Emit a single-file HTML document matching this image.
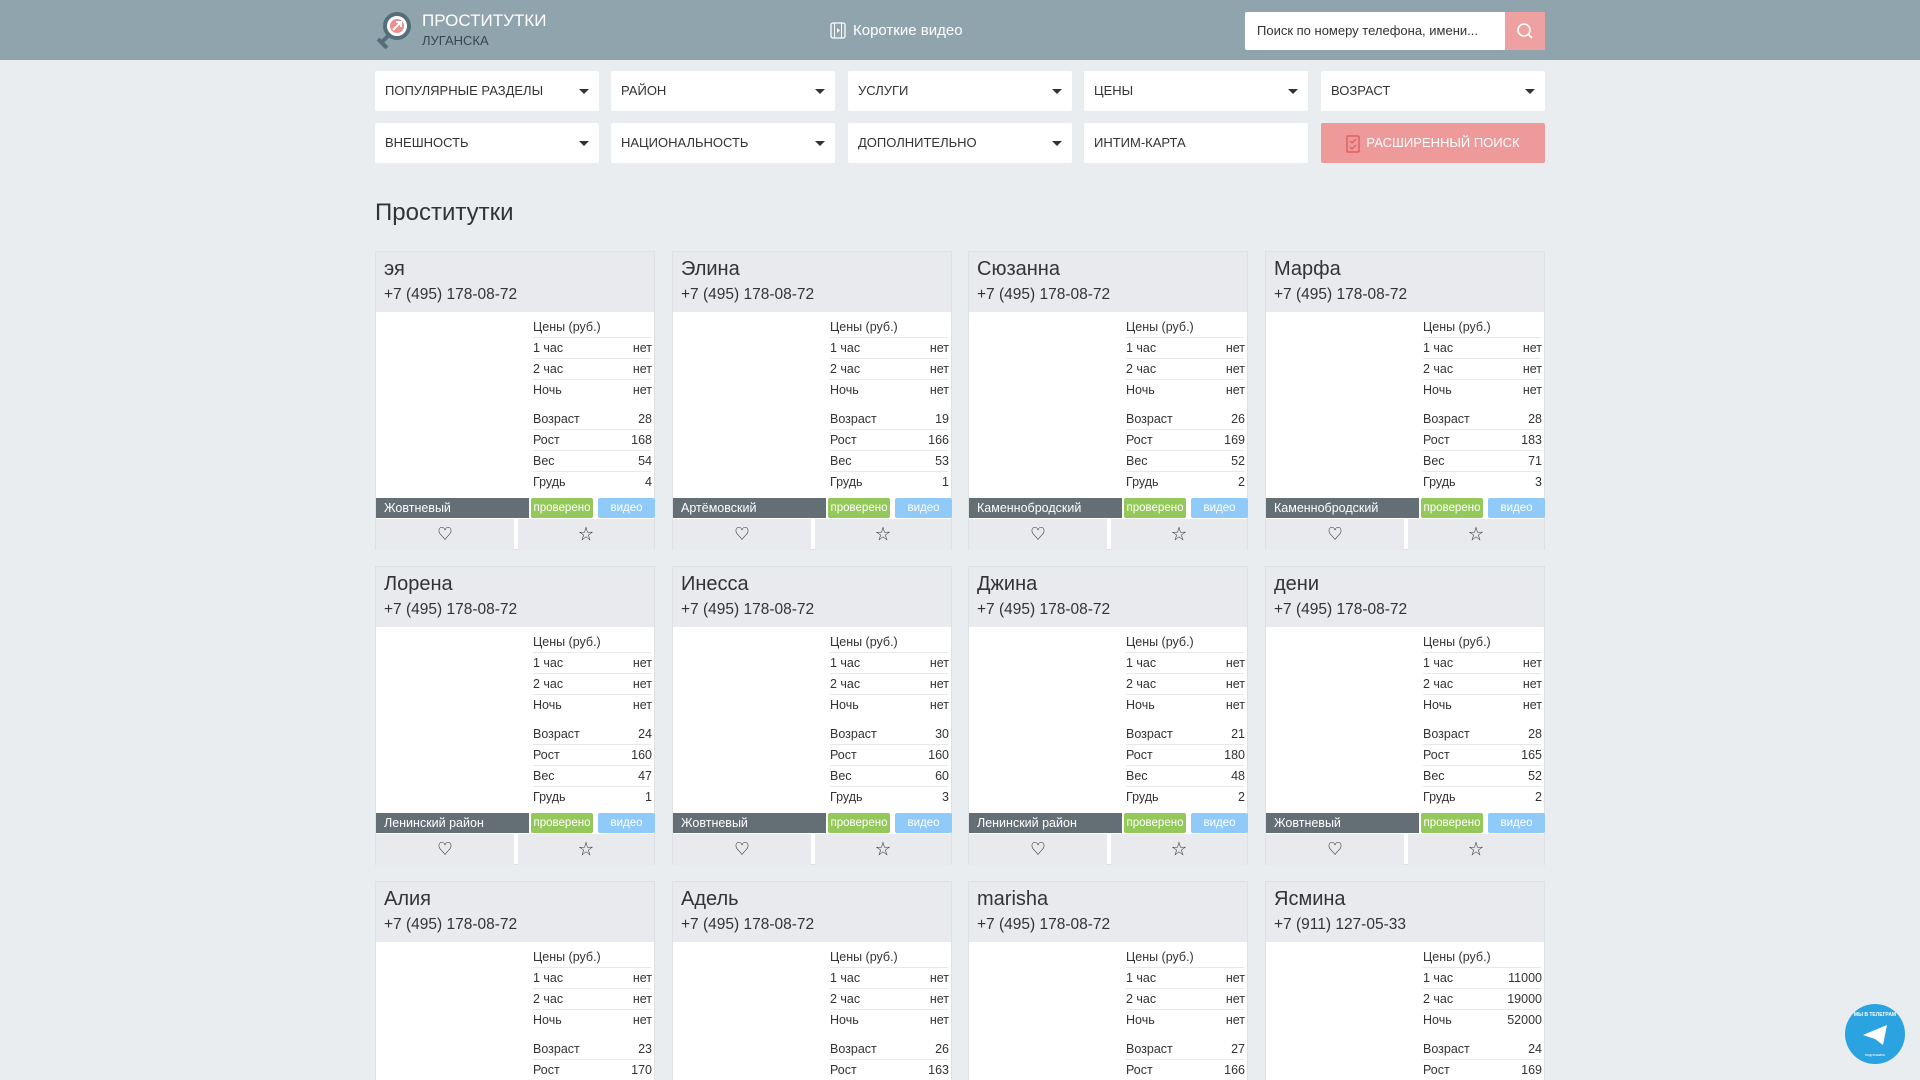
<!DOCTYPE html>
<html style="width:1920px;height:1080px;overflow:hidden"><head><meta charset="utf-8"><style>
*{box-sizing:border-box;margin:0;padding:0}
body{width:1920px;height:1080px;overflow:hidden;background:#eaedf0;font-family:"Liberation Sans","Noto Sans CJK SC",sans-serif;color:#333;position:relative}
.hdr{position:absolute;left:0;top:0;width:1920px;height:60px;background:#90a4ae}
.abs{position:absolute}
.f{position:absolute;width:224px;height:40px;background:#fff;border-radius:2px;font-size:13px;color:#333;padding-left:10px;line-height:40px}
.f .ar{position:absolute;right:10px;top:18px;width:0;height:0;border-left:5px solid transparent;border-right:5px solid transparent;border-top:5px solid #333}
.card{position:absolute;width:280px;height:299px;background:#fff;border:1px solid #dde1e4}
.ch{position:absolute;left:0;top:0;width:278px;height:60px;background:#e8eaed}
.nm{position:absolute;left:8px;top:6px;font-size:20px;color:#333}
.ph{position:absolute;left:8px;top:34px;font-size:15.5px;color:#333}
.tb{position:absolute;left:157px;width:118px;font-size:12.5px;color:#333}
.tb div{height:21px;line-height:21px;border-bottom:1px solid #e6e8ea;position:relative}
.tb div span{position:absolute;right:-1px;top:0}
.tb div.nb{border-bottom:none}
.dis{position:absolute;left:0;top:246px;width:153px;height:20px;background:#646e75;color:#fff;font-size:12.5px;line-height:20px;padding-left:8px}
.ok{position:absolute;left:155px;top:246px;width:62px;height:20px;background:#95c85a;color:#fff;font-size:11.5px;line-height:20px;text-align:center;border-radius:2px}
.vid{position:absolute;left:222px;top:246px;width:57px;height:20px;background:#90caf9;color:#fff;font-size:11.5px;line-height:20px;text-align:center;border-radius:2px}
.act{position:absolute;top:267px;height:31px;background:#e8eaed;text-align:center;line-height:31px;font-size:15px;color:#333}
</style></head><body>
<div class="hdr"></div>
<svg class="abs" style="left:372px;top:8px" width="50" height="46">
<line x1="10" y1="34" x2="21" y2="23" stroke="#546e7a" stroke-width="4"/>
<line x1="6" y1="31" x2="15" y2="40" stroke="#546e7a" stroke-width="4"/>
<circle cx="25" cy="18" r="12" fill="#fff" stroke="#546e7a" stroke-width="4"/>
<circle cx="25" cy="18" r="7" fill="#ef8e8e"/>
<path d="M21 22 L28 15 M24 14 L29 14 L29 19" stroke="#fff" stroke-width="2" fill="none"/>
</svg>
<div class="abs" style="left:422px;top:11px;font-size:17px;color:#fff">ПРОСТИТУТКИ</div>
<div class="abs" style="left:422px;top:33px;font-size:13px;color:#37474f">ЛУГАНСКА</div>
<svg class="abs" style="left:830px;top:22px" width="16" height="17"><rect x="1" y="1" width="14" height="15" rx="2" fill="none" stroke="#fff" stroke-width="1.3"/><line x1="4.5" y1="1" x2="4.5" y2="16" stroke="#fff"/><line x1="11.5" y1="1" x2="11.5" y2="16" stroke="#fff"/><path d="M7 6 L10 8.5 L7 11Z" fill="#fff"/></svg>
<div class="abs" style="left:853px;top:22px;font-size:15px;color:#fff">Короткие видео</div>
<div class="abs" style="left:1245px;top:12px;width:260px;height:38px;background:#fff;border-radius:2px 0 0 2px;font-size:13px;color:#333;line-height:38px;padding-left:12px">Поиск по номеру телефона, имени...</div>
<div class="abs" style="left:1505px;top:12px;width:40px;height:38px;background:#efa0a0"><svg width="40" height="38"><circle cx="19" cy="18" r="6" fill="none" stroke="#fff" stroke-width="1.6"/><line x1="23.5" y1="22.5" x2="27" y2="26" stroke="#fff" stroke-width="1.6"/></svg></div>

<div class="f" style="left:375px;top:71px">ПОПУЛЯРНЫЕ РАЗДЕЛЫ<i class="ar"></i></div>
<div class="f" style="left:611px;top:71px">РАЙОН<i class="ar"></i></div>
<div class="f" style="left:848px;top:71px">УСЛУГИ<i class="ar"></i></div>
<div class="f" style="left:1084px;top:71px">ЦЕНЫ<i class="ar"></i></div>
<div class="f" style="left:1321px;top:71px">ВОЗРАСТ<i class="ar"></i></div>
<div class="f" style="left:375px;top:123px">ВНЕШНОСТЬ<i class="ar"></i></div>
<div class="f" style="left:611px;top:123px">НАЦИОНАЛЬНОСТЬ<i class="ar"></i></div>
<div class="f" style="left:848px;top:123px">ДОПОЛНИТЕЛЬНО<i class="ar"></i></div>
<div class="f" style="left:1084px;top:123px">ИНТИМ-КАРТА</div>
<div class="f" style="left:1321px;top:123px;background:#ee9a9a;color:#fff;padding-left:0;text-align:center"><svg style="vertical-align:middle;margin-right:6px" width="14" height="18"><rect x="1" y="1" width="12" height="16" rx="1" fill="none" stroke="#e06060" stroke-width="1.5"/><path d="M4 6 L6 8 L10 4 M4 12 L6 14 L10 10" stroke="#e06060" stroke-width="1.3" fill="none"/></svg>РАСШИРЕННЫЙ ПОИСК</div>

<div class="abs" style="left:375px;top:199px;font-size:24px;color:#333">Проститутки</div>

<!-- row 1 -->
<div class="card" style="left:375px;top:251px"><div class="ch"><div class="nm">эя</div><div class="ph">+7 (495) 178-08-72</div></div>
<div class="tb" style="top:65px"><div>Цены (руб.)</div><div>1 час<span>нет</span></div><div>2 час<span>нет</span></div><div class="nb">Ночь<span>нет</span></div></div>
<div class="tb" style="top:157px"><div>Возраст<span>28</span></div><div>Рост<span>168</span></div><div>Вес<span>54</span></div><div class="nb">Грудь<span>4</span></div></div>
<div class="dis">Жовтневый</div><div class="ok">проверено</div><div class="vid">видео</div>
<div class="act" style="left:0;width:138px">♡</div><div class="act" style="left:142px;width:136px">☆</div></div>

<div class="card" style="left:672px;top:251px"><div class="ch"><div class="nm">Элина</div><div class="ph">+7 (495) 178-08-72</div></div>
<div class="tb" style="top:65px"><div>Цены (руб.)</div><div>1 час<span>нет</span></div><div>2 час<span>нет</span></div><div class="nb">Ночь<span>нет</span></div></div>
<div class="tb" style="top:157px"><div>Возраст<span>19</span></div><div>Рост<span>166</span></div><div>Вес<span>53</span></div><div class="nb">Грудь<span>1</span></div></div>
<div class="dis">Артёмовский</div><div class="ok">проверено</div><div class="vid">видео</div>
<div class="act" style="left:0;width:138px">♡</div><div class="act" style="left:142px;width:136px">☆</div></div>

<div class="card" style="left:968px;top:251px"><div class="ch"><div class="nm">Сюзанна</div><div class="ph">+7 (495) 178-08-72</div></div>
<div class="tb" style="top:65px"><div>Цены (руб.)</div><div>1 час<span>нет</span></div><div>2 час<span>нет</span></div><div class="nb">Ночь<span>нет</span></div></div>
<div class="tb" style="top:157px"><div>Возраст<span>26</span></div><div>Рост<span>169</span></div><div>Вес<span>52</span></div><div class="nb">Грудь<span>2</span></div></div>
<div class="dis">Каменнобродский</div><div class="ok">проверено</div><div class="vid">видео</div>
<div class="act" style="left:0;width:138px">♡</div><div class="act" style="left:142px;width:136px">☆</div></div>

<div class="card" style="left:1265px;top:251px"><div class="ch"><div class="nm">Марфа</div><div class="ph">+7 (495) 178-08-72</div></div>
<div class="tb" style="top:65px"><div>Цены (руб.)</div><div>1 час<span>нет</span></div><div>2 час<span>нет</span></div><div class="nb">Ночь<span>нет</span></div></div>
<div class="tb" style="top:157px"><div>Возраст<span>28</span></div><div>Рост<span>183</span></div><div>Вес<span>71</span></div><div class="nb">Грудь<span>3</span></div></div>
<div class="dis">Каменнобродский</div><div class="ok">проверено</div><div class="vid">видео</div>
<div class="act" style="left:0;width:138px">♡</div><div class="act" style="left:142px;width:136px">☆</div></div>

<!-- row 2 -->
<div class="card" style="left:375px;top:566px"><div class="ch"><div class="nm">Лорена</div><div class="ph">+7 (495) 178-08-72</div></div>
<div class="tb" style="top:65px"><div>Цены (руб.)</div><div>1 час<span>нет</span></div><div>2 час<span>нет</span></div><div class="nb">Ночь<span>нет</span></div></div>
<div class="tb" style="top:157px"><div>Возраст<span>24</span></div><div>Рост<span>160</span></div><div>Вес<span>47</span></div><div class="nb">Грудь<span>1</span></div></div>
<div class="dis">Ленинский район</div><div class="ok">проверено</div><div class="vid">видео</div>
<div class="act" style="left:0;width:138px">♡</div><div class="act" style="left:142px;width:136px">☆</div></div>

<div class="card" style="left:672px;top:566px"><div class="ch"><div class="nm">Инесса</div><div class="ph">+7 (495) 178-08-72</div></div>
<div class="tb" style="top:65px"><div>Цены (руб.)</div><div>1 час<span>нет</span></div><div>2 час<span>нет</span></div><div class="nb">Ночь<span>нет</span></div></div>
<div class="tb" style="top:157px"><div>Возраст<span>30</span></div><div>Рост<span>160</span></div><div>Вес<span>60</span></div><div class="nb">Грудь<span>3</span></div></div>
<div class="dis">Жовтневый</div><div class="ok">проверено</div><div class="vid">видео</div>
<div class="act" style="left:0;width:138px">♡</div><div class="act" style="left:142px;width:136px">☆</div></div>

<div class="card" style="left:968px;top:566px"><div class="ch"><div class="nm">Джина</div><div class="ph">+7 (495) 178-08-72</div></div>
<div class="tb" style="top:65px"><div>Цены (руб.)</div><div>1 час<span>нет</span></div><div>2 час<span>нет</span></div><div class="nb">Ночь<span>нет</span></div></div>
<div class="tb" style="top:157px"><div>Возраст<span>21</span></div><div>Рост<span>180</span></div><div>Вес<span>48</span></div><div class="nb">Грудь<span>2</span></div></div>
<div class="dis">Ленинский район</div><div class="ok">проверено</div><div class="vid">видео</div>
<div class="act" style="left:0;width:138px">♡</div><div class="act" style="left:142px;width:136px">☆</div></div>

<div class="card" style="left:1265px;top:566px"><div class="ch"><div class="nm">дени</div><div class="ph">+7 (495) 178-08-72</div></div>
<div class="tb" style="top:65px"><div>Цены (руб.)</div><div>1 час<span>нет</span></div><div>2 час<span>нет</span></div><div class="nb">Ночь<span>нет</span></div></div>
<div class="tb" style="top:157px"><div>Возраст<span>28</span></div><div>Рост<span>165</span></div><div>Вес<span>52</span></div><div class="nb">Грудь<span>2</span></div></div>
<div class="dis">Жовтневый</div><div class="ok">проверено</div><div class="vid">видео</div>
<div class="act" style="left:0;width:138px">♡</div><div class="act" style="left:142px;width:136px">☆</div></div>

<!-- row 3 -->
<div class="card" style="left:375px;top:881px;height:199px;border-bottom:none"><div class="ch"><div class="nm">Алия</div><div class="ph">+7 (495) 178-08-72</div></div>
<div class="tb" style="top:65px"><div>Цены (руб.)</div><div>1 час<span>нет</span></div><div>2 час<span>нет</span></div><div class="nb">Ночь<span>нет</span></div></div>
<div class="tb" style="top:157px"><div>Возраст<span>23</span></div><div>Рост<span>170</span></div></div></div>

<div class="card" style="left:672px;top:881px;height:199px;border-bottom:none"><div class="ch"><div class="nm">Адель</div><div class="ph">+7 (495) 178-08-72</div></div>
<div class="tb" style="top:65px"><div>Цены (руб.)</div><div>1 час<span>нет</span></div><div>2 час<span>нет</span></div><div class="nb">Ночь<span>нет</span></div></div>
<div class="tb" style="top:157px"><div>Возраст<span>26</span></div><div>Рост<span>163</span></div></div></div>

<div class="card" style="left:968px;top:881px;height:199px;border-bottom:none"><div class="ch"><div class="nm">marisha</div><div class="ph">+7 (495) 178-08-72</div></div>
<div class="tb" style="top:65px"><div>Цены (руб.)</div><div>1 час<span>нет</span></div><div>2 час<span>нет</span></div><div class="nb">Ночь<span>нет</span></div></div>
<div class="tb" style="top:157px"><div>Возраст<span>27</span></div><div>Рост<span>166</span></div></div></div>

<div class="card" style="left:1265px;top:881px;height:199px;border-bottom:none"><div class="ch"><div class="nm">Ясмина</div><div class="ph">+7 (911) 127-05-33</div></div>
<div class="tb" style="top:65px"><div>Цены (руб.)</div><div>1 час<span>11000</span></div><div>2 час<span>19000</span></div><div class="nb">Ночь<span>52000</span></div></div>
<div class="tb" style="top:157px"><div>Возраст<span>24</span></div><div>Рост<span>169</span></div></div></div>

<svg class="abs" style="left:1844px;top:1003px" width="62" height="62">
<circle cx="31" cy="31" r="30" fill="#2aa3e0"/>
<path d="M19 32 L43 22 L39 42 L31 36 Z" fill="#fff"/>
<text x="31" y="13" font-size="5" fill="#fff" text-anchor="middle" font-family="Liberation Sans" font-weight="bold">МЫ В ТЕЛЕГРАМ</text>
<text x="31" y="53" font-size="4" fill="#fff" text-anchor="middle" font-family="Liberation Sans">подпишись</text>
</svg>
</body></html>
